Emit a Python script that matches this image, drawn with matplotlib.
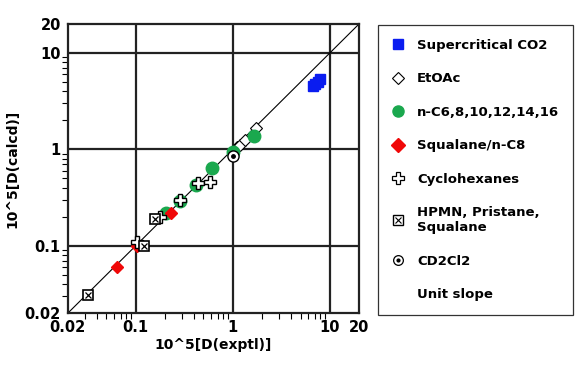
import matplotlib
matplotlib.use("Agg")
import matplotlib.pyplot as plt
from matplotlib.lines import Line2D
from matplotlib.ticker import FixedLocator, LogLocator, NullFormatter

# data
co2_x = [6.7, 7.0, 7.5, 7.9]
co2_y = [4.5, 4.8, 5.0, 5.4]
etoac_x = [1.1, 1.2, 1.35, 1.75]
etoac_y = [1.05, 1.12, 1.25, 1.65]
alk_x = [0.204, 0.284, 0.417, 0.615, 1.0, 1.67]
alk_y = [0.22, 0.29, 0.43, 0.64, 0.95, 1.39]
sq_x = [0.065, 0.103, 0.233]
sq_y = [0.06, 0.10, 0.22]
cyc_x = [0.103, 0.177, 0.29, 0.44, 0.58]
cyc_y = [0.11, 0.197, 0.30, 0.445, 0.46]
hpmn_x = [0.032, 0.123, 0.158]
hpmn_y = [0.031, 0.10, 0.19]
cd_x = [1.0]
cd_y = [0.85]
slope_x = [0.02, 20]
ticks = [0.02, 0.1, 1, 10, 20]
tick_labels = ["0.02", "0.1", "1", "10", "20"]
labels = ["Supercritical CO2", "EtOAc", "n-C6,8,10,12,14,16", "Squalane/n-C8",
          "Cyclohexanes", "HPMN, Pristane,\nSqualane", "CD2Cl2", "Unit slope"]

fig = plt.figure(figsize=(5.76, 3.66), dpi=100)
W, H = 576, 366
ax = fig.add_axes([67.7 / W, 1 - 313.3 / H, (359 - 67.7) / W, (313.3 - 24) / H])
ax.set_xscale("log")
ax.set_yscale("log")
ax.set_xlim(0.02, 20)
ax.set_ylim(0.02, 20)

for v in [0.1, 1, 10]:
    ax.axvline(v, color="#222222", lw=1.6, zorder=1)
    ax.axhline(v, color="#222222", lw=1.6, zorder=1)

ax.plot(slope_x, slope_x, color="black", lw=0.8, zorder=2)

ax.plot(co2_x, co2_y, "s", color="#0a1cf0", ms=7, mec="#0a1cf0", ls="none", zorder=4)
ax.plot(etoac_x, etoac_y, "D", mfc="white", mec="black", ms=6, mew=0.8, ls="none", zorder=3)
ax.plot(alk_x, alk_y, "o", color="#1aa84e", ms=9, ls="none", zorder=4)
ax.plot(sq_x, sq_y, "D", color="#f00808", ms=6.5, ls="none", zorder=5)
ax.plot(cyc_x, cyc_y, "P", mfc="white", mec="black", ms=8.5, mew=1.0, ls="none", zorder=6)
ax.plot(hpmn_x, hpmn_y, "s", mfc="white", mec="black", ms=7.5, mew=1.2, ls="none", zorder=6)
ax.plot(hpmn_x, hpmn_y, "x", color="black", ms=4, mew=0.9, ls="none", zorder=7)
ax.plot(cd_x, cd_y, "o", mfc="white", mec="black", ms=8, mew=1.0, ls="none", zorder=6)
ax.plot(cd_x, cd_y, "o", color="black", ms=2.5, ls="none", zorder=7)

for s in ax.spines.values():
    s.set_linewidth(1.6)
    s.set_color("#222222")

ax.xaxis.set_major_locator(FixedLocator(ticks))
ax.yaxis.set_major_locator(FixedLocator(ticks))
ax.set_xticklabels(tick_labels)
ax.set_yticklabels(tick_labels)
ax.xaxis.set_minor_locator(LogLocator(base=10, subs=range(2, 10)))
ax.yaxis.set_minor_locator(LogLocator(base=10, subs=range(2, 10)))
ax.xaxis.set_minor_formatter(NullFormatter())
ax.yaxis.set_minor_formatter(NullFormatter())
ax.tick_params(which="major", length=0, labelsize=10.5, pad=5)
ax.tick_params(which="minor", length=4, direction="out", width=0.8)
for lab in ax.get_xticklabels() + ax.get_yticklabels():
    lab.set_fontweight("bold")

ax.set_xlabel("10^5[D(exptl)]", fontsize=10, fontweight="bold", labelpad=2)
ax.set_ylabel("10^5[D(calcd)]", fontsize=10, fontweight="bold", labelpad=4)

handles = [
    Line2D([], [], marker="s", color="#0a1cf0", ls="none", ms=7),
    Line2D([], [], marker="D", mfc="white", mec="black", ls="none", ms=6, mew=0.8),
    Line2D([], [], marker="o", color="#1aa84e", ls="none", ms=8),
    Line2D([], [], marker="D", color="#f00808", ls="none", ms=7),
    Line2D([], [], marker="P", mfc="white", mec="black", ls="none", ms=8, mew=0.9),
    (Line2D([], [], marker="s", mfc="white", mec="black", ls="none", ms=7, mew=1.0),
     Line2D([], [], marker="x", color="black", ls="none", ms=4, mew=0.8)),
    (Line2D([], [], marker="o", mfc="white", mec="black", ls="none", ms=7, mew=0.9),
     Line2D([], [], marker="o", color="black", ls="none", ms=2)),
    Line2D([], [], ls="none"),
]
leg = fig.legend(handles, labels, loc="upper left",
                 bbox_to_anchor=(378 / W, 1 - 25 / H - 0.01, (573 - 378) / W, 0.01),
                 bbox_transform=fig.transFigure, mode="expand",
                 frameon=True, fancybox=False, edgecolor="black",
                 prop={"size": 9.5, "weight": "bold"}, labelspacing=1.55,
                 handlelength=1.0, handletextpad=0.9, borderpad=1.05, borderaxespad=0)
leg.get_frame().set_linewidth(0.9)

fig.savefig("out.png", dpi=100)
